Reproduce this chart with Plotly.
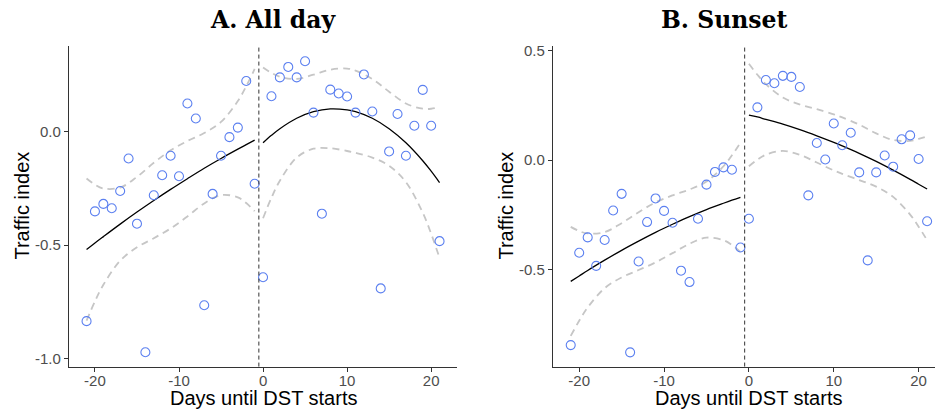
import plotly.graph_objects as go

# ---------------- data ----------------
days = list(range(-21, 22))

allday_index = [-0.835, -0.352, -0.319, -0.338, -0.262, -0.119, -0.406, -0.972, -0.281, -0.193,
                -0.107, -0.197, 0.123, 0.057, -0.765, -0.275, -0.107, -0.025, 0.017, 0.222,
                -0.230, -0.642, 0.155, 0.238, 0.284, 0.238, 0.309, 0.083, -0.362, 0.184,
                0.167, 0.154, 0.083, 0.251, 0.088, -0.691, -0.088, 0.077, -0.107, 0.025,
                0.183, 0.025, -0.483]

sunset_index = [-0.845, -0.423, -0.353, -0.483, -0.365, -0.230, -0.154, -0.878, -0.463, -0.283,
                -0.175, -0.232, -0.286, -0.505, -0.557, -0.268, -0.112, -0.054, -0.033, -0.044,
                -0.399, -0.268, 0.241, 0.366, 0.351, 0.385, 0.380, 0.334, -0.161, 0.078,
                0.003, 0.167, 0.068, 0.125, -0.056, -0.458, -0.056, 0.021, -0.030, 0.095,
                0.113, 0.005, -0.279]

pre_days = [-21, -20, -19, -17, -15, -13, -11, -9, -7, -5, -3, -2, -1]
post_days = [0, 1, 2, 4, 6, 8, 10, 11, 13, 15, 17, 19, 20, 21]

a_pre_fit = [-0.520, -0.491, -0.463, -0.408, -0.355, -0.304, -0.255, -0.208, -0.162, -0.119, -0.078, -0.058, -0.038]
a_pre_hi = [-0.207, -0.234, -0.251, -0.247, -0.200, -0.138, -0.083, -0.042, -0.007, 0.042, 0.134, 0.199, 0.275]
a_pre_lo = [-0.833, -0.748, -0.675, -0.569, -0.510, -0.470, -0.427, -0.374, -0.317, -0.280, -0.290, -0.315, -0.351]

a_post_fit = [-0.050, -0.017, 0.012, 0.058, 0.087, 0.0995, 0.095, 0.087, 0.058, 0.012, -0.050, -0.129, -0.175, -0.225]
a_post_hi = [0.282, 0.258, 0.241, 0.231, 0.250, 0.272, 0.277, 0.268, 0.231, 0.175, 0.123, 0.100, 0.100, 0.107]
a_post_lo = [-0.382, -0.292, -0.217, -0.115, -0.076, -0.074, -0.086, -0.094, -0.115, -0.151, -0.223, -0.358, -0.450, -0.557]

b_pre_fit = [-0.554, -0.529, -0.504, -0.457, -0.412, -0.370, -0.330, -0.293, -0.258, -0.226, -0.197, -0.183, -0.170]
b_pre_hi = [-0.305, -0.324, -0.335, -0.329, -0.288, -0.238, -0.193, -0.161, -0.134, -0.098, -0.028, 0.022, 0.079]
b_pre_lo = [-0.803, -0.734, -0.673, -0.585, -0.536, -0.502, -0.467, -0.425, -0.382, -0.354, -0.366, -0.388, -0.419]

b_post_fit = [0.206, 0.197, 0.186, 0.164, 0.139, 0.111, 0.081, 0.065, 0.031, -0.006, -0.046, -0.088, -0.110, -0.132]
b_post_hi = [0.440, 0.390, 0.347, 0.286, 0.254, 0.233, 0.209, 0.195, 0.162, 0.122, 0.092, 0.088, 0.097, 0.108]
b_post_lo = [-0.028, 0.002, 0.025, 0.042, 0.024, -0.011, -0.047, -0.063, -0.091, -0.121, -0.168, -0.249, -0.304, -0.366]

x_ticks = [-20, -10, 0, 10, 20]
x_ticktext = ["-20", "-10", "0", "10", "20"]
a_yticks = [-1.0, -0.5, 0.0]
a_yticktext = ["-1.0", "-0.5", "0.0"]
b_yticks = [-0.5, 0.0, 0.5]
b_yticktext = ["-0.5", "0.0", "0.5"]

titles = ["A. All day", "B. Sunset"]
x_title = "Days until DST starts"
y_title = "Traffic index"
cutoff = -0.5

# ---------------- styling ----------------
W, H = 935, 413
BAND = dict(color="#c6c6c6", width=1.8, dash="7px,5px", shape="spline")
FIT = dict(color="black", width=1.3, shape="spline")
MARK = dict(symbol="circle-open", size=9, color="rgb(92,128,240)", line=dict(width=1.1))

fig = go.Figure()

panels = [
    ("x", "y", allday_index, (pre_days, a_pre_fit, a_pre_hi, a_pre_lo), (post_days, a_post_fit, a_post_hi, a_post_lo)),
    ("x2", "y2", sunset_index, (pre_days, b_pre_fit, b_pre_hi, b_pre_lo), (post_days, b_post_fit, b_post_hi, b_post_lo)),
]

for xa, ya, pts, pre, post in panels:
    for seg in (pre, post):
        d, f, hi, lo = seg
        fig.add_trace(go.Scatter(x=d, y=hi, mode="lines", line=BAND, xaxis=xa, yaxis=ya,
                                 showlegend=False, hoverinfo="skip"))
        fig.add_trace(go.Scatter(x=d, y=lo, mode="lines", line=BAND, xaxis=xa, yaxis=ya,
                                 showlegend=False, hoverinfo="skip"))
        fig.add_trace(go.Scatter(x=d, y=f, mode="lines", line=FIT, xaxis=xa, yaxis=ya,
                                 showlegend=False))
    fig.add_trace(go.Scatter(x=days, y=pts, mode="markers", marker=MARK, xaxis=xa, yaxis=ya,
                             showlegend=False))
    fig.add_shape(type="line", xref=xa, yref=ya + " domain", x0=cutoff, x1=cutoff, y0=0, y1=1,
                  line=dict(color="#333333", width=1, dash="4px,3px"), layer="above")

axis_common = dict(showline=True, linecolor="#333333", linewidth=1, ticks="outside", ticklen=4,
                   tickwidth=1, tickcolor="#333333", showgrid=False, zeroline=False,
                   tickfont=dict(family="Liberation Sans", size=15, color="#4d4d4d"))

ydom = [1 - 366 / H, 1 - 42 / H]
fig.update_layout(
    width=W, height=H, margin=dict(l=0, r=0, t=0, b=0),
    paper_bgcolor="white", plot_bgcolor="white", showlegend=False,
    xaxis=dict(domain=[68.9 / W, 457.2 / W], range=[-23.1, 23.1], tickvals=x_ticks,
               ticktext=x_ticktext, anchor="y", ticklabelstandoff=-4, **axis_common),
    yaxis=dict(domain=ydom, range=[-1.035, 0.374], tickvals=a_yticks, ticktext=a_yticktext,
               anchor="x", **axis_common),
    xaxis2=dict(domain=[552.9 / W, 1.0], range=[-23.1, 21.93], tickvals=x_ticks,
                ticktext=x_ticktext, anchor="y2", ticklabelstandoff=-4, **axis_common),
    yaxis2=dict(domain=ydom, range=[-0.943, 0.519], tickvals=b_yticks, ticktext=b_yticktext,
                anchor="x2", **axis_common),
)

ann = []
title_font = dict(family="DejaVu Serif", size=23.5, color="black", weight="bold")
lab_font = dict(family="Liberation Sans", size=20, color="black")
for cx, t in zip([273, 724], titles):
    ann.append(dict(text=t, x=cx / W, y=1 - 15 / H, xref="paper", yref="paper",
                    xanchor="center", yanchor="middle", showarrow=False, font=title_font))
for cx in [263.1, 748.9]:
    ann.append(dict(text=x_title, x=cx / W, y=1 - 398 / H, xref="paper", yref="paper",
                    xanchor="center", yanchor="middle", showarrow=False, font=lab_font))
for cx in [22, 506]:
    ann.append(dict(text=y_title, x=cx / W, y=1 - 203 / H, xref="paper", yref="paper",
                    xanchor="center", yanchor="middle", showarrow=False, textangle=-90,
                    font=lab_font))
fig.update_layout(annotations=ann)

fig.write_html("out.html")
